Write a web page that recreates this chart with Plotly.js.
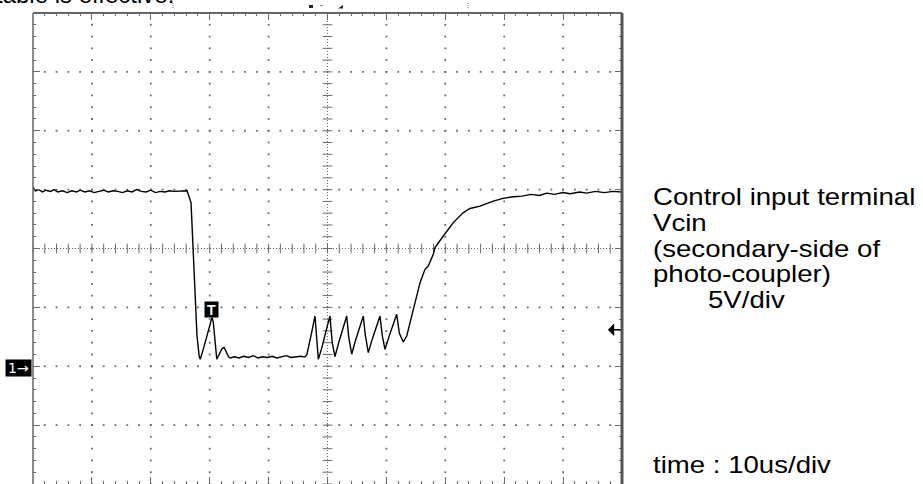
<!DOCTYPE html>
<html>
<head>
<meta charset="utf-8">
<script src="https://cdn.plot.ly/plotly-3.0.1.min.js"></script>
<style>
  html, body { margin: 0; padding: 0; background: #ffffff; }
  #chart { width: 923px; height: 484px; }
</style>
</head>
<body>
<div id="chart"></div>
<script>
// ---- Data (time in microseconds, Vcin in volts) ----
const timeUs = [
  0, 0.4, 1, 1.6, 2.2, 3, 3.6, 4.2, 5, 5.8, 6.6, 7.4, 8, 8.8, 9.6, 10.4, 11.2, 12, 12.8, 13.6,
  14.4, 15.2, 16, 16.8, 17.6, 18.4, 19.2, 20, 20.8, 21.6, 22.4, 23.2, 24, 24.8, 25.6, 26.15,
  26.83, 27.16, 27.5, 27.84, 28.2, 28.4,
  29.0, 29.7, 30.39, 30.6, 30.9, 31.2, 31.7, 32.1, 32.45, 32.8, 33.2, 33.5,
  34.2, 35, 35.8, 36.6, 37.4, 38.2, 39, 39.8, 40.6, 41.4, 42.2, 43, 43.8, 44.6, 45.4, 46.2,
  46.5, 47.2, 47.88, 48.44, 49.0, 49.7, 50.42, 50.8, 51.27, 51.9, 52.6, 53.26, 53.6, 54.11, 54.7,
  55.4, 56.08, 56.4, 56.93, 57.6, 58.3, 58.91, 59.3, 59.76, 60.5, 61.2, 61.75, 62.2, 62.87,
  63.45, 64.57, 65.71, 66.55, 67.11, 67.96, 68.25, 69.66, 71.36, 73.06, 74.2, 75.89, 78.15, 79.8,
  81.55, 83, 84.5, 86, 87.2, 88.5, 90, 91.2, 92.8, 94, 95.5, 97, 98.5, 100
];
const vcinVolts = [
  15.2, 14.9, 15.0, 14.8, 14.95, 14.85, 15.0, 14.8, 14.9, 14.75, 14.9, 14.8, 14.95, 14.8, 14.9, 14.75, 14.85, 14.95, 14.8, 14.9,
  14.85, 14.75, 14.9, 14.8, 15.0, 14.85, 14.8, 14.95, 14.75, 14.85, 14.8, 14.9, 14.85, 14.85, 14.85, 14.9,
  13.9, 9.9, 6.3, 2.6, 0.9, 0.6,
  1.6, 2.9, 4.15, 3.8, 1.8, 0.6, 1.1, 1.5, 1.6, 1.2, 0.8, 0.7,
  0.8, 0.7, 0.85, 0.75, 0.9, 0.7, 0.8, 0.75, 0.85, 0.7, 0.8, 0.9, 0.75, 0.8, 0.85, 0.8,
  1.0, 2.6, 4.27, 0.6, 1.5, 2.9, 4.27, 2.0, 0.82, 2.0, 3.2, 4.27, 2.5, 1.02, 2.1,
  3.2, 4.27, 2.7, 1.16, 2.3, 3.4, 4.27, 2.6, 1.44, 2.6, 3.6, 4.41, 2.8, 2.06,
  2.57, 4.84, 7.1, 8.23, 8.51, 9.5, 10.08, 11.06, 12.2, 13.05, 13.4, 13.6, 14.03, 14.26,
  14.4, 14.45, 14.6, 14.5, 14.7, 14.6, 14.75, 14.65, 14.8, 14.7, 14.85, 14.75, 14.85, 14.8
];

// Screen scales: 10 us/div horizontally, 5 V/div vertically
const timeRange = [0, 100];
const voltRange = [-10, 30];
const triggerTimeUs = 30.3;     // "T" marker position
const triggerPeakV = 4.1;
const triggerLevelV = 3.1;      // right-edge trigger level arrow
const groundV = 0;              // channel 1 reference "1→"

const sideLabels = ["Control input terminal", "Vcin", "(secondary-side of", "photo-coupler)"];
const scaleLabel = "5V/div";
const timeLabel = "time : 10us/div";
const clippedTopText = "table is effective.";

// ---- Graticule (decoration) ----
const xDiv = 10, yDiv = 5, xMinor = 2, yMinor = 1;
const xCenter = 50, yCenter = 10;
const gx = [], gy = [];
for (let x = timeRange[0] + xDiv; x < timeRange[1]; x += xDiv) {
  if (x === xCenter) continue;
  for (let y = voltRange[0]; y <= voltRange[1]; y += yMinor) { gx.push(x); gy.push(y); }
}
for (let y = voltRange[0] + yDiv; y < voltRange[1]; y += yDiv) {
  if (y === yCenter) continue;
  for (let x = timeRange[0]; x <= timeRange[1]; x += xMinor) { gx.push(x); gy.push(y); }
}
const cvx = [], cvy = [], chx = [], chy = [];
for (let y = voltRange[0]; y <= voltRange[1]; y += yMinor) { cvx.push(xCenter); cvy.push(y); }
for (let x = timeRange[0]; x <= timeRange[1]; x += xMinor) { chx.push(x); chy.push(yCenter); }

const gridCol = '#6a6a6a';
const traces = [
  { x: gx, y: gy, mode: 'markers', type: 'scatter', hoverinfo: 'skip',
    marker: { symbol: 'square', size: 1.8, color: gridCol, line: { width: 0 } } },
  { x: [xCenter, xCenter], y: voltRange, mode: 'lines', type: 'scatter', hoverinfo: 'skip',
    line: { color: gridCol, width: 1, dash: '1px,2px' } },
  { x: timeRange, y: [yCenter, yCenter], mode: 'lines', type: 'scatter', hoverinfo: 'skip',
    line: { color: gridCol, width: 1, dash: '1px,2px' } },
  { x: cvx, y: cvy, mode: 'markers', type: 'scatter', hoverinfo: 'skip',
    marker: { symbol: 'line-ew', size: 7, line: { width: 1, color: gridCol } } },
  { x: chx, y: chy, mode: 'markers', type: 'scatter', hoverinfo: 'skip',
    marker: { symbol: 'line-ns', size: 7, line: { width: 1, color: gridCol } } },
  { x: timeUs, y: vcinVolts, mode: 'lines', type: 'scatter', name: 'Vcin',
    line: { color: '#000000', width: 1.4 } }
];

const textFont = { family: 'Liberation Sans, Arial, sans-serif', size: 24, color: '#000000' };
const pxX = X => (X - 33) / 589;
const pxY = Y => (484 - Y) / 471;

const annotations = [];
const sideY = [196, 222, 248, 273];
sideLabels.forEach((t, i) => annotations.push({
  text: t, xref: 'paper', yref: 'paper', x: pxX(651), y: pxY(sideY[i]),
  xanchor: 'left', yanchor: 'middle', align: 'left', showarrow: false, font: textFont
}));
annotations.push({ text: scaleLabel, xref: 'paper', yref: 'paper', x: pxX(706), y: pxY(299),
  xanchor: 'left', yanchor: 'middle', align: 'left', showarrow: false, font: textFont });
annotations.push({ text: timeLabel, xref: 'paper', yref: 'paper', x: pxX(651), y: pxY(464),
  xanchor: 'left', yanchor: 'middle', align: 'left', showarrow: false, font: textFont });
annotations.push({ text: clippedTopText, xref: 'paper', yref: 'paper', x: pxX(-6), y: pxY(10),
  xanchor: 'left', yanchor: 'bottom', align: 'left', showarrow: false, font: textFont });
// channel 1 ground marker
annotations.push({ text: '1→', xref: 'paper', yref: 'y', x: 0, y: groundV, xshift: -1, yshift: -2,
  xanchor: 'right', yanchor: 'middle', showarrow: false, bgcolor: '#000000', borderpad: 0,
  width: 25, height: 16, font: { family: 'DejaVu Sans, sans-serif', size: 14, color: '#ffffff' } });
// trigger "T" marker
annotations.push({ text: '<b>T</b>', xref: 'x', yref: 'y', x: triggerTimeUs, y: triggerPeakV,
  xanchor: 'center', yanchor: 'bottom', showarrow: false, bgcolor: '#000000', borderpad: 0,
  width: 13, height: 15, font: { family: 'Liberation Sans, Arial, sans-serif', size: 14, color: '#ffffff' } });
// trigger level arrow on the right edge
annotations.push({ text: '', xref: 'x', yref: 'y', x: 97.6, y: triggerLevelV,
  axref: 'x', ayref: 'y', ax: 100, ay: triggerLevelV, showarrow: true,
  arrowhead: 1, arrowsize: 1.4, arrowwidth: 1.5, arrowcolor: '#000000', standoff: 0, startstandoff: 0 });

const shapes = [
  { type: 'line', xref: 'paper', yref: 'paper', x0: 0, x1: 0, y0: 0, y1: 1, line: { color: '#666666', width: 1.5 }, layer: 'above' },
  { type: 'line', xref: 'paper', yref: 'paper', x0: 0, x1: 1, y0: 1, y1: 1, line: { color: '#666666', width: 2 }, layer: 'above' },
  { type: 'line', xref: 'paper', yref: 'paper', x0: 1, x1: 1, y0: 0, y1: 1, line: { color: '#555555', width: 3 }, layer: 'above' },
  // tiny status marks above the screen
  { type: 'line', xref: 'paper', yref: 'paper', x0: pxX(173), x1: pxX(173), y0: pxY(3), y1: pxY(9), line: { color: '#777', width: 1, dash: '1px,1px' } },
  { type: 'line', xref: 'paper', yref: 'paper', x0: pxX(468), x1: pxX(468), y0: pxY(3), y1: pxY(9), line: { color: '#777', width: 1, dash: '1px,1px' } },
  { type: 'rect', xref: 'paper', yref: 'paper', x0: pxX(309), x1: pxX(313), y0: pxY(8), y1: pxY(5), fillcolor: '#222', line: { width: 0 } },
  { type: 'line', xref: 'paper', yref: 'paper', x0: pxX(320), x1: pxX(323), y0: pxY(5.5), y1: pxY(5.5), line: { color: '#888', width: 1 } },
  { type: 'path', xref: 'paper', yref: 'paper',
    path: `M ${pxX(338)} ${pxY(8.5)} L ${pxX(343)} ${pxY(8.5)} L ${pxX(343)} ${pxY(5)} Z`, fillcolor: '#222', line: { width: 0 } }
];

const axisCommon = {
  showgrid: false, zeroline: false, showticklabels: false, showline: false,
  ticks: 'inside', tickmode: 'linear', ticklen: 7, tickwidth: 1, tickcolor: gridCol,
  mirror: 'ticks', fixedrange: true
};

const layout = {
  width: 923, height: 484,
  margin: { l: 33, r: 301, t: 13, b: 0, pad: 0 },
  paper_bgcolor: '#ffffff', plot_bgcolor: '#ffffff',
  showlegend: false,
  xaxis: Object.assign({}, axisCommon, { range: timeRange, tick0: 0, dtick: xDiv,
    minor: { tick0: 0, dtick: xMinor, ticks: 'inside', ticklen: 3, tickcolor: gridCol, showgrid: false } }),
  yaxis: Object.assign({}, axisCommon, { range: voltRange, tick0: voltRange[0], dtick: yDiv,
    minor: { tick0: voltRange[0], dtick: yMinor, ticks: 'inside', ticklen: 3, tickcolor: gridCol, showgrid: false } }),
  annotations: annotations,
  shapes: shapes
};

// The document text beside the screen is set slightly wider than the font's natural width.
const textStretch = 1.15;
const stretched = new Set(sideLabels.concat([scaleLabel, timeLabel]));

Plotly.newPlot('chart', traces, layout, { staticPlot: true, displayModeBar: false }).then(gd => {
  gd.querySelectorAll('text.annotation-text').forEach(el => {
    if (stretched.has(el.textContent)) {
      const w = el.getComputedTextLength();
      el.setAttribute('textLength', (w * textStretch).toFixed(1));
      el.setAttribute('lengthAdjust', 'spacingAndGlyphs');
    }
  });
});
</script>
</body>
</html>
